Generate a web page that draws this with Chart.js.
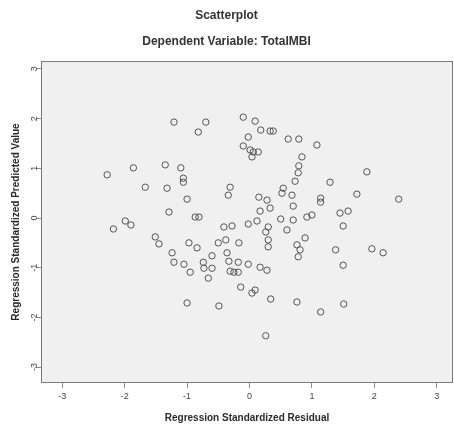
<!DOCTYPE html>
<html>
<head>
<meta charset="utf-8">
<script src="https://cdn.jsdelivr.net/npm/chart.js@4/dist/chart.umd.min.js"></script>
<style>
  html, body { margin: 0; padding: 0; background: #ffffff; }
  canvas { display: block; }
</style>
</head>
<body>
<canvas id="scatter" width="454" height="429"></canvas>
<script>
// regression standardized residual (x) and predicted value (y)
const residuals = [
  -1.21, -0.70, -0.82, -0.10, 0.09, 0.18, 0.33, 0.38, -0.02, -0.10,
  0.01, 0.06, 0.14, 0.04, 0.62, 0.79, 1.08, 0.84, 0.79, 0.78,
  0.73, 1.29, 1.88, 1.72, 2.39, -2.28, -1.86, -1.35, -1.10, -1.06,
  -1.06, -1.67, -1.32, -1.00, -1.29, -0.87, -0.81, -1.99, -1.90, -2.18,
  -0.31, -0.34, 0.15, 0.28, 0.33, 0.17, 0.54, 0.52, 0.68, 0.70,
  1.14, 1.14, 0.92, 1.00, 0.50, 0.70, 0.60, 0.12, -0.02, -0.28,
  -0.41, 0.30, 0.26, 1.45, 1.58, 1.50, 0.30, 0.30, -0.17, -0.38,
  -0.50, -1.51, -1.45, -0.97, -0.84, -0.60, -0.74, -0.73, -0.60, -0.36,
  -0.33, -0.18, -0.02, -0.31, -0.25, -0.18, -0.66, 0.17, 0.28, 0.89,
  0.76, 0.81, 0.78, 1.38, 1.50, 1.96, 2.14, -1.24, -1.21, -1.05,
  -0.95, -0.14, 0.04, 0.09, 0.34, 0.76, 1.14, 1.51, 0.26, -1.00,
  -0.49
]
const predicted = [
  1.93, 1.93, 1.73, 2.03, 1.95, 1.77, 1.75, 1.75, 1.63, 1.45,
  1.37, 1.33, 1.33, 1.23, 1.59, 1.59, 1.47, 1.23, 1.05, 0.91,
  0.74, 0.72, 0.93, 0.48, 0.38, 0.87, 1.01, 1.07, 1.01, 0.80,
  0.72, 0.62, 0.60, 0.38, 0.12, 0.02, 0.02, -0.06, -0.14, -0.22,
  0.62, 0.46, 0.42, 0.36, 0.20, 0.14, 0.60, 0.50, 0.46, 0.24,
  0.40, 0.32, 0.02, 0.06, -0.02, -0.04, -0.24, -0.06, -0.12, -0.16,
  -0.18, -0.18, -0.28, 0.10, 0.14, -0.16, -0.44, -0.58, -0.50, -0.44,
  -0.50, -0.38, -0.52, -0.50, -0.60, -0.76, -0.89, -1.01, -1.01, -0.70,
  -0.87, -0.89, -0.93, -1.07, -1.09, -1.09, -1.21, -0.99, -1.05, -0.40,
  -0.54, -0.64, -0.78, -0.64, -0.95, -0.62, -0.70, -0.70, -0.89, -0.93,
  -1.09, -1.39, -1.51, -1.45, -1.63, -1.69, -1.89, -1.73, -2.37, -1.71,
  -1.77
]
const xTicks = [-3, -2, -1, 0, 1, 2, 3]
const yTicks = [-3, -2, -1, 0, 1, 2, 3]

const fontFamily = "'Liberation Sans', Arial, sans-serif"

// grey plot area with a frame round it, like the SPSS output
const plotFrame = {
  id: 'plotFrame',
  beforeDraw(chart) {
    const {ctx, chartArea: a} = chart
    ctx.save()
    ctx.fillStyle = '#f0f0f0'
    ctx.fillRect(a.left, a.top, a.right - a.left, a.bottom - a.top)
    ctx.strokeStyle = '#7a7a7a'
    ctx.lineWidth = 1
    ctx.strokeRect(a.left + 0.5, a.top + 0.5, a.right - a.left - 1, a.bottom - a.top - 1)
    ctx.restore()
  }
}

const points = residuals.map((r, i) => ({x: r, y: predicted[i]}))

const ctx = document.getElementById('scatter').getContext('2d')

new Chart(ctx, {
  type: 'scatter',
  data: {
    datasets: [{
      data: points,
      pointStyle: 'circle',
      pointRadius: 3.2,
      borderWidth: 1,
      borderColor: '#555',
      backgroundColor: 'rgba(0,0,0,0)'
    }]
  },
  plugins: [plotFrame],
  options: {
    responsive: false,
    animation: false,
    layout: { autoPadding: false, padding: { left: 0, right: 1, top: 0, bottom: 0 } },
    plugins: {
      legend: { display: false },
      tooltip: { enabled: false },
      title: {
        display: true,
        text: 'Scatterplot',
        color: '#333',
        font: { family: fontFamily, size: 12, weight: 'bold' },
        padding: { top: 8, bottom: 5 }
      },
      subtitle: {
        display: true,
        text: 'Dependent Variable: TotalMBI',
        color: '#333',
        font: { family: fontFamily, size: 12, weight: 'bold' },
        padding: { top: 7.4, bottom: 11.8 }
      }
    },
    scales: {
      x: {
        type: 'linear',
        min: -3.34,
        max: 3.26,
        afterBuildTicks: scale => { scale.ticks = xTicks.map(v => ({ value: v })) },
        afterFit: scale => {
          scale.height = 46
          scale.paddingLeft = 0
          scale.paddingRight = 0
        },
        border: { display: false },
        grid: { drawOnChartArea: false, drawTicks: true, tickLength: 5, color: '#8a8a8a' },
        ticks: {
          maxRotation: 0,
          padding: 3,
          color: '#444',
          font: { family: fontFamily, size: 9 }
        },
        title: {
          display: true,
          text: 'Regression Standardized Residual',
          color: '#2a2a2a',
          font: { family: fontFamily, size: 10, weight: 'bold' },
          padding: { top: 0, bottom: 5 }
        }
      },
      y: {
        type: 'linear',
        min: -3.32,
        max: 3.16,
        afterBuildTicks: scale => { scale.ticks = yTicks.map(v => ({ value: v })) },
        afterFit: scale => {
          scale.width = 41
          scale.paddingTop = 0
          scale.paddingBottom = 0
        },
        border: { display: false },
        grid: { drawOnChartArea: false, drawTicks: true, tickLength: 5, color: '#8a8a8a' },
        ticks: {
          minRotation: 90,
          maxRotation: 90,
          crossAlign: 'center',
          padding: -3,
          color: '#444',
          font: { family: fontFamily, size: 9 }
        },
        title: {
          display: true,
          text: 'Regression Standardized Predicted Value',
          color: '#2a2a2a',
          font: { family: fontFamily, size: 10, weight: 'bold' },
          padding: { top: 10, bottom: 0 }
        }
      }
    }
  }
})
</script>
</body>
</html>
